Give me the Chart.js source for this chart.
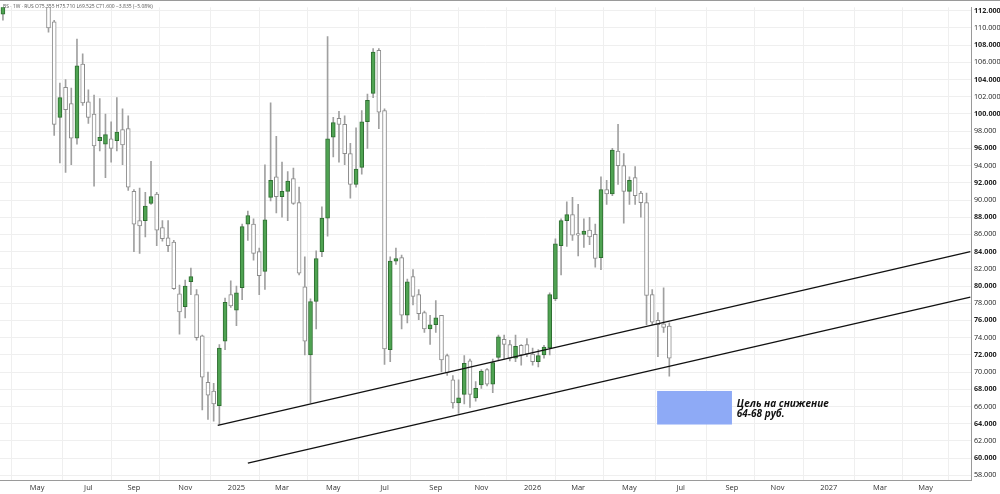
<!DOCTYPE html>
<html><head><meta charset="utf-8">
<script src="https://cdn.jsdelivr.net/npm/chart.js@4.4.1/dist/chart.umd.min.js"></script>
<style>html,body{margin:0;padding:0;background:#fff;}#wrap{width:1000px;height:494px;position:relative;}</style>
</head><body><div id="wrap"><canvas id="c"></canvas></div>
<script>
// Weekly candles; index 0 = week of startDate
const startDate = '2024-03-18';
const opens = [111.6,null,null,null,null,null,null,null,
113.5,110.7,99.6,103.1,101.2,97.2,105.8,101.4,100.0,96.9,96.5,97.1,96.9,98.2,98.3,91.0,87.6,87.6,89.6,90.7,
86.8,85.6,85.1,79.1,77.6,80.5,79.0,74.2,68.8,67.8,66.1,73.6,79.0,77.2,79.8,87.2,87.2,84.0,81.7,90.3,
92.7,90.4,91.0,92.5,89.7,79.9,72.0,78.2,84.0,87.9,97.3,99.5,98.8,95.4,91.8,93.8,99.1,102.4,107.4,100.4,
72.6,82.9,83.3,76.6,81.1,79.0,76.9,75.0,75.5,76.6,71.9,69.1,66.4,67.4,71.3,67.0,68.5,70.3,68.6,71.7,
73.8,73.2,71.6,73.1,73.2,72.1,71.2,72.0,72.8,78.5,84.7,87.6,88.3,86.1,86.0,86.5,86.0,83.3,91.2,90.7,
95.7,94.0,91.0,92.6,90.8,89.7,79.0,76.0,75.6,75.355];
const highs = [114.0,null,null,null,null,null,null,null,
114.5,110.9,103.6,104.0,103.0,108.7,107.0,102.8,102.2,101.8,100.0,99.1,101.9,100.6,99.8,91.2,91.4,90.9,94.5,90.9,
87.6,87.6,85.3,80.1,80.7,82.1,79.6,74.3,70.0,68.7,73.2,78.6,80.6,80.0,87.2,88.7,87.8,84.4,94.1,101.3,
97.4,94.4,93.3,93.7,91.5,83.4,78.5,84.1,89.2,109.0,99.6,100.3,99.8,96.6,98.4,100.4,102.3,107.6,107.6,100.6,
83.4,84.4,83.6,80.8,81.9,79.6,77.1,76.6,78.3,76.6,72.1,69.6,69.1,71.9,71.5,68.9,70.3,70.4,71.5,74.3,
74.3,73.7,74.3,73.2,73.9,72.8,72.6,73.1,79.2,85.5,87.8,89.8,90.3,89.5,87.8,88.0,87.2,92.7,92.3,96.0,
98.8,95.4,92.7,93.9,91.0,90.8,79.6,76.9,79.8,75.71];
const lows = [110.9,null,null,null,null,null,null,null,
109.5,97.5,94.3,93.2,94.1,96.5,101.0,98.9,91.6,95.7,92.6,94.4,95.7,94.1,91.1,84.0,83.8,85.7,89.5,84.7,
85.2,84.0,79.6,74.4,76.3,79.0,73.7,65.6,64.5,64.3,63.9,72.6,77.5,75.4,78.4,85.3,83.0,79.0,79.6,89.9,
88.5,88.0,87.6,89.5,81.3,72.0,66.4,75.0,83.4,85.8,95.0,94.4,94.1,90.2,91.5,93.0,96.0,101.9,98.3,70.9,
71.2,82.5,75.0,75.7,77.8,76.1,74.6,73.2,74.6,70.0,69.6,65.8,65.2,66.3,65.9,66.6,68.1,68.4,67.6,71.4,
71.5,71.3,71.2,70.8,71.8,70.8,70.6,71.6,72.0,78.3,81.3,84.6,85.3,83.5,84.5,84.8,82.2,81.9,89.5,90.5,
91.8,87.3,89.5,89.5,88.0,75.5,75.5,71.8,74.6,69.525];
const closes = [113.2,null,null,null,null,null,null,null,
110.0,98.8,101.9,100.5,97.2,105.6,101.3,99.6,96.3,97.3,97.6,96.0,97.9,96.4,91.5,87.2,87.0,89.3,90.4,86.5,
85.5,84.7,79.7,77.0,80.0,81.1,74.0,69.4,67.3,66.3,72.8,78.1,77.7,79.2,86.9,88.2,83.8,81.2,87.7,92.3,
90.4,91.0,92.2,89.6,81.5,73.6,78.2,83.2,87.9,97.1,99.0,98.8,95.4,91.8,93.6,99.1,101.6,107.2,100.2,72.7,
82.9,83.2,76.6,80.5,78.8,76.8,75.0,75.5,76.3,71.4,69.9,66.4,67.0,71.0,67.4,68.1,70.1,68.6,71.1,74.1,
73.2,71.6,73.0,72.0,72.1,71.2,71.9,72.9,79.0,84.9,87.6,88.3,85.9,85.9,86.4,85.7,83.2,91.2,90.7,95.8,
94.0,91.0,92.3,90.5,89.7,78.9,75.8,75.5,75.2,71.6];

// Axis labels
const monthTickDates = ['2024-05-01','2024-07-01','2024-09-01','2024-11-01','2025-01-01','2025-03-01','2025-05-01','2025-07-01','2025-09-01','2025-11-01','2026-01-01','2026-03-01','2026-05-01','2026-07-01','2026-09-01','2026-11-01','2027-01-01','2027-03-01','2027-05-01'];
const monthTickLabels = ['May','Jul','Sep','Nov','2025','Mar','May','Jul','Sep','Nov','2026','Mar','May','Jul','Sep','Nov','2027','Mar','May'];
const priceTicks = [58,60,62,64,66,68,70,72,74,76,78,80,82,84,86,88,90,92,94,96,98,100,102,104,106,108,110,112];

// Drawn annotations (date, price)
const upperTrend = [['2024-12-07',63.8],['2027-06-20',84.0]];
const lowerTrend = [['2025-01-13',59.4],['2027-06-20',78.7]];
const targetZone = {from:'2026-05-31', to:'2026-08-31', low:63.9, high:67.8};
const targetText = ['Цель на снижение','64-68 руб.'];
const targetTextDate = '2026-09-06';
const legendText = 'BS · 1W · RUS O75.355 H75.710 L69.525 C71.600 −3.835 (−5.08%)';

const DAY = 864e5;
const weekPos = d => (Date.parse(d) - Date.parse(startDate)) / (7*DAY);

const wicks = [], upBodies = [], downBodies = [];
opens.forEach((o,i)=>{
  if(o===null) return;
  wicks.push({x:i, y:[lows[i], highs[i]]});
  if(closes[i] >= o) upBodies.push({x:i, y:[o, closes[i]]});
  else downBodies.push({x:i, y:[closes[i], o]});
});

const tickMap = new Map();
monthTickDates.forEach((d,k)=>{ tickMap.set(Math.floor(weekPos(d)), monthTickLabels[k]); });

const overlay = {
  id:'overlay',
  beforeDatasetsDraw(chart){
    const {ctx, scales:{x,y}} = chart;
    const x0 = x.getPixelForValue(weekPos(targetZone.from)), x1 = x.getPixelForValue(weekPos(targetZone.to));
    const y0 = y.getPixelForValue(targetZone.high), y1 = y.getPixelForValue(targetZone.low);
    ctx.save(); ctx.fillStyle = '#8eaaf6'; ctx.fillRect(x0, y0, x1-x0, y1-y0); ctx.restore();
  },
  afterDraw(chart){
    const {ctx, scales:{x,y}} = chart;
    ctx.save();
    ctx.strokeStyle = '#9a9a9a'; ctx.lineWidth = 1;
    ctx.beginPath(); ctx.moveTo(0, 0.5); ctx.lineTo(chart.width, 0.5); ctx.stroke();
    ctx.fillStyle = '#111';
    ctx.font = 'italic bold 10px "Open Sans"';
    ctx.textBaseline = 'alphabetic';
    const tx = x.getPixelForValue(weekPos(targetTextDate));
    ctx.fillText(targetText[0], tx, y.getPixelForValue(65.95));
    ctx.fillText(targetText[1], tx, y.getPixelForValue(64.75));
    ctx.font = '5px "Open Sans"'; ctx.fillStyle = '#555'; ctx.textBaseline='middle';
    ctx.fillText(legendText, 3, 7);
    ctx.restore();
  }
};

new Chart(document.getElementById('c'), {
  type:'bar',
  data:{datasets:[
    {type:'line', data: upperTrend.map(p=>({x:weekPos(p[0]), y:p[1]})), borderColor:'#111', borderWidth:1.3, pointRadius:0, order:0},
    {type:'line', data: lowerTrend.map(p=>({x:weekPos(p[0]), y:p[1]})), borderColor:'#111', borderWidth:1.3, pointRadius:0, order:0},
    {data: upBodies, backgroundColor:'#4fa352', borderColor:'#2e6e31', borderWidth:1, borderSkipped:false, barThickness:4, grouped:false, order:1},
    {data: downBodies, backgroundColor:'#ffffff', borderColor:'#8c8c8c', borderWidth:1, borderSkipped:false, barThickness:4, grouped:false, order:1},
    {data: wicks, backgroundColor:'#a0a0a0', borderWidth:0, barThickness:1, grouped:false, order:2}
  ]},
  options:{
    responsive:true, maintainAspectRatio:false, animation:false, devicePixelRatio:1,
    layout:{padding:0},
    plugins:{legend:{display:false}, tooltip:{enabled:false}},
    scales:{
      x:{type:'linear', min:-0.515, max:169.97, offset:false,
        grid:{color:'#efefef', drawTicks:false},
        border:{color:'#9a9a9a'},
        afterBuildTicks(s){ s.ticks = [...tickMap.keys()].map(v=>({value:v})); },
        afterFit(s){ s.height = 14; },
        ticks:{autoSkip:false, maxRotation:0, padding:3, color:'#333', font:{size:7.5, family:'"Open Sans"'}, callback:v=>tickMap.get(v) ?? ''}
      },
      y:{type:'linear', position:'right', min:57.45, max:112.4,
        grid:{color:'#efefef', drawTicks:false},
        border:{color:'#9a9a9a'},
        afterBuildTicks(s){ s.ticks = priceTicks.map(v=>({value:v})); },
        afterFit(s){ s.width = 29; },
        ticks:{padding:3, color:'#222', font:c=>({size:7.2, family:'"Open Sans"', weight: (c.tick && c.tick.value%4===0)?'bold':'normal'}), callback:v=>v.toFixed(3)}
      }
    }
  },
  plugins:[overlay]
});
</script></body></html>
